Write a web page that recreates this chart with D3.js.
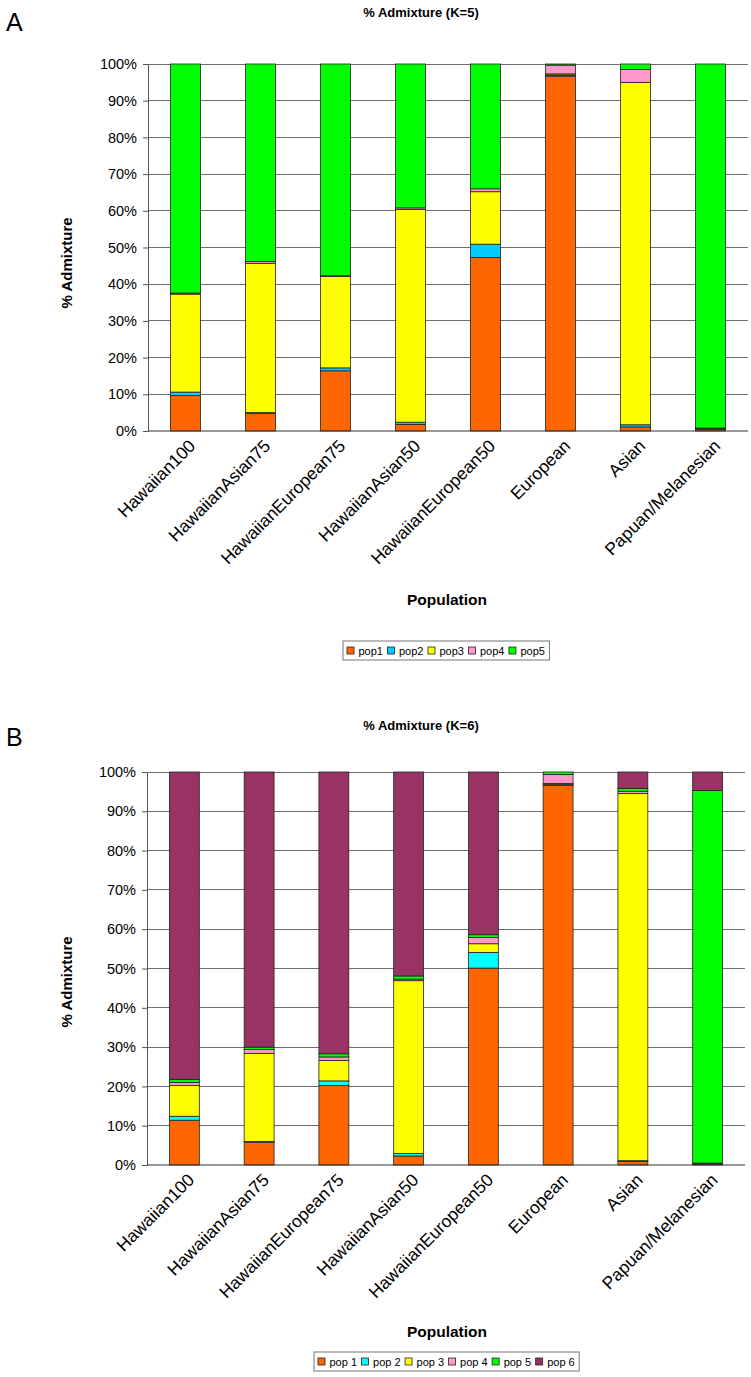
<!DOCTYPE html>
<html><head><meta charset="utf-8">
<script src="https://cdn.jsdelivr.net/npm/d3@7"></script>
<style>
body{margin:0;background:#fff;}
svg text{font-family:"Liberation Sans",Arial,sans-serif;fill:#000;}
</style></head>
<body>
<svg id="chart" width="751" height="1377"></svg>
<script>
const populations = ["Hawaiian100","HawaiianAsian75","HawaiianEuropean75","HawaiianAsian50","HawaiianEuropean50","European","Asian","Papuan/Melanesian"];
const yTicks = [0,10,20,30,40,50,60,70,80,90,100];

// K=5
const k5Series = ["pop1","pop2","pop3","pop4","pop5"];
const k5Colors = ["#FF6600","#00CCFF","#FFFF00","#FF99CC","#00FF00"];
const k5_pop1 = [9.7, 4.8, 16.4, 1.8, 47.3, 96.7, 1.1, 0.4];
const k5_pop2 = [0.9, 0.2, 0.8, 0.6, 3.6, 0.3, 0.6, 0.1];
const k5_pop3 = [26.7, 40.7, 24.9, 58.0, 14.3, 0.3, 93.3, 0.2];
const k5_pop4 = [0.3, 0.5, 0.2, 0.4, 0.8, 2.4, 3.5, 0.1];
const k5_pop5 = [62.4, 53.8, 57.7, 39.2, 34.0, 0.3, 1.5, 99.2];

// K=6
const k6Series = ["pop 1","pop 2","pop 3","pop 4","pop 5","pop 6"];
const k6Colors = ["#FF6600","#00FFFF","#FFFF00","#FF99CC","#00FF00","#993366"];
const k6_pop1 = [11.4, 5.8, 20.2, 2.3, 50.1, 96.6, 0.9, 0.2];
const k6_pop2 = [1.0, 0.2, 1.2, 0.6, 4.0, 0.2, 0.2, 0.1];
const k6_pop3 = [7.8, 22.4, 5.2, 44.0, 2.2, 0.3, 93.4, 0.1];
const k6_pop4 = [0.8, 1.0, 0.9, 0.4, 1.6, 2.3, 0.6, 0.1];
const k6_pop5 = [0.8, 0.6, 0.8, 0.8, 0.7, 0.6, 0.7, 94.8];
const k6_pop6 = [78.2, 70.0, 71.7, 51.9, 41.4, 0.0, 4.2, 4.7];

const svg = d3.select("#chart");

function drawChart(cfg){
  const {panel, title, series, colors, values, left, right, top, bottom, titleY, popY, legend, panelY, yLabelY} = cfg;
  const g = svg.append("g");
  const x = d3.scaleBand().domain(populations).range([left, right]).paddingInner(0.6).paddingOuter(0.3);
  const y = d3.scaleLinear().domain([0,100]).range([bottom, top]);

  g.selectAll("line.grid").data(yTicks.filter(d=>d>0)).join("line")
    .attr("x1", left).attr("x2", right)
    .attr("y1", d=>y(d)).attr("y2", d=>y(d))
    .attr("stroke", "#6e6e6e").attr("stroke-width", 1).attr("shape-rendering","crispEdges");

  const rows = populations.map((p,i)=>{ const o={pop:p}; series.forEach((s,j)=>o[s]=values[j][i]); return o; });
  const stack = d3.stack().keys(series)(rows);
  stack.forEach((layer, j)=>{
    g.append("g").selectAll("rect").data(layer).join("rect")
      .attr("x", d=>x(d.data.pop))
      .attr("width", x.bandwidth())
      .attr("y", d=>y(d[1]))
      .attr("height", d=>Math.max(0, y(d[0])-y(d[1])))
      .attr("fill", colors[j])
      .attr("stroke", "#222").attr("stroke-width", 0.8);
  });

  const yAxis = d3.axisLeft(y).tickValues(yTicks).tickFormat(d=>d+"%").tickSize(5).tickPadding(6);
  const ya = g.append("g").attr("transform", `translate(${left},0)`).call(yAxis);
  ya.select(".domain").attr("stroke", "#555");
  ya.selectAll(".tick line").attr("stroke", "#555");
  ya.selectAll("text").attr("font-size", 14.5).attr("font-family","Liberation Sans, Arial, sans-serif").attr("fill","#111");

  const xAxis = d3.axisBottom(x).tickSize(0).tickPadding(0);
  const xa = g.append("g").attr("transform", `translate(0,${bottom})`).call(xAxis);
  xa.select(".domain").attr("stroke", "#333").attr("d", `M${left},0H${right}`);
  xa.selectAll("text")
    .attr("font-size", 17.5).attr("font-family","Liberation Sans, Arial, sans-serif").attr("fill","#111")
    .attr("text-anchor","end")
    .attr("dy", null)
    .attr("transform", "translate(11,16) rotate(-45)");

  g.append("text").attr("x", 421).attr("y", titleY).attr("text-anchor","middle")
    .attr("font-size", 13).attr("font-weight","bold").text(title);
  g.append("text").attr("x", 6).attr("y", panelY).attr("font-size", 25).text(panel);
  g.append("text").attr("transform", `translate(72,${yLabelY}) rotate(-90)`).attr("text-anchor","middle")
    .attr("font-size", 15).attr("font-weight","bold").text("% Admixture");
  g.append("text").attr("x", 447).attr("y", popY).attr("text-anchor","middle")
    .attr("font-size", 15.5).attr("font-weight","bold").text("Population");

  const lg = g.append("g");
  const box = lg.append("rect").attr("x", legend.x).attr("y", legend.y).attr("height", 19)
    .attr("fill","#fff").attr("stroke","#777").attr("stroke-width",1);
  let cx = legend.x + 4;
  series.forEach((s,j)=>{
    lg.append("rect").attr("x", cx).attr("y", legend.y+6).attr("width", 7).attr("height", 7)
      .attr("fill", colors[j]).attr("stroke","#222").attr("stroke-width",0.8);
    const t = lg.append("text").attr("x", cx+11.5).attr("y", legend.y+13.5).attr("font-size", 11).text(s);
    cx += 11.5 + t.node().getComputedTextLength() + 4.5;
  });
  box.attr("width", cx - legend.x);
}

drawChart({panel:"A", title:"% Admixture (K=5)", series:k5Series, colors:k5Colors,
  values:[k5_pop1,k5_pop2,k5_pop3,k5_pop4,k5_pop5],
  left:148, right:748, top:64, bottom:431, titleY:17, popY:605, panelY:31, yLabelY:263,
  legend:{x:343, y:641}});

drawChart({panel:"B", title:"% Admixture (K=6)", series:k6Series, colors:k6Colors,
  values:[k6_pop1,k6_pop2,k6_pop3,k6_pop4,k6_pop5,k6_pop6],
  left:147, right:745, top:772, bottom:1165, titleY:730, popY:1337, panelY:746, yLabelY:982,
  legend:{x:314, y:1352}});
</script>
</body></html>
